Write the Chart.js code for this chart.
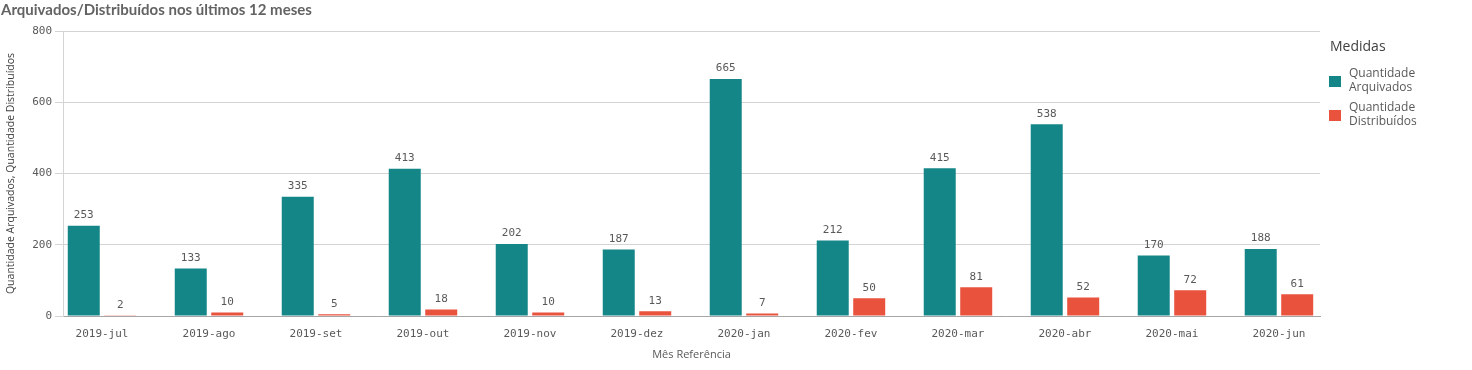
<!DOCTYPE html>
<html>
<head>
<meta charset="utf-8">
<script src="https://cdn.jsdelivr.net/npm/chart.js@4/dist/chart.umd.min.js"></script>
<style>
  html, body { margin: 0; padding: 0; background: #fff; }
  #wrap { width: 1472px; height: 370px; }
</style>
</head>
<body>
<div id="wrap"><canvas id="barChart" width="1472" height="370"></canvas></div>
<script>
"use strict";

// data
var meses = [ "2019-jul", "2019-ago", "2019-set", "2019-out", "2019-nov", "2019-dez",
              "2020-jan", "2020-fev", "2020-mar", "2020-abr", "2020-mai", "2020-jun" ];
var arquivados = [ 253, 133, 335, 413, 202, 187, 665, 212, 415, 538, 170, 188 ];
var distribuidos = [ 2, 10, 5, 18, 10, 13, 7, 50, 81, 52, 72, 61 ];
var yTicks = [ 0, 200, 400, 600, 800 ];

var TEAL = "#148688";
var RED = "#e9533e";
var MONO = "'DejaVu Sans Mono', monospace";
var SANS = "'Open Sans', sans-serif";

// value labels on top of bars
var valueLabels = {
    id: "valueLabels",
    afterDatasetsDraw: function ( chart ) {
        var ctx = chart.ctx;
        ctx.save();
        ctx.font = "11px " + MONO;
        ctx.fillStyle = "#595959";
        ctx.textAlign = "center";
        ctx.textBaseline = "bottom";
        chart.data.datasets.forEach( function ( ds, i ) {
            chart.getDatasetMeta( i ).data.forEach( function ( bar, j ) {
                ctx.fillText( ds.data[ j ], bar.x, bar.y - 5 );
            });
        });
        ctx.restore();
    }
};

// legend on the right ("Medidas") with wrapped labels
var sideLegend = {
    id: "sideLegend",
    afterDraw: function ( chart ) {
        var ctx = chart.ctx;
        var x = chart.chartArea.right + 10;
        ctx.save();
        ctx.textBaseline = "middle";
        ctx.textAlign = "left";
        ctx.fillStyle = "#404040";
        ctx.font = "14px " + SANS;
        ctx.fillText( "Medidas", x, 47 );
        var y = 74;
        chart.data.datasets.forEach( function ( ds ) {
            ctx.fillStyle = ds.backgroundColor;
            ctx.fillRect( x - 1, y + 2, 12, 11 );
            ctx.fillStyle = "#595959";
            ctx.font = "12px " + SANS;
            ds.legendLines.forEach( function ( t, k ) {
                ctx.fillText( t, x + 19, y + k * 14 );
            });
            y += 34;
        });
        ctx.restore();
    }
};

var ctx = document.getElementById( "barChart" );
var myChart = new Chart( ctx, {
    type: "bar",
    data: {
        labels: meses,
        datasets: [
            {
                label: "Quantidade Arquivados",
                legendLines: [ "Quantidade", "Arquivados" ],
                data: arquivados,
                backgroundColor: TEAL,
                categoryPercentage: 0.682,
                barPercentage: 0.877
            },
            {
                label: "Quantidade Distribuídos",
                legendLines: [ "Quantidade", "Distribuídos" ],
                data: distribuidos,
                backgroundColor: RED,
                categoryPercentage: 0.682,
                barPercentage: 0.877
            }
        ]
    },
    plugins: [ valueLabels, sideLegend ],
    options: {
        responsive: false,
        animation: false,
        layout: { padding: { left: 1, right: 152, top: 0, bottom: 0 } },
        plugins: {
            legend: { display: false },
            tooltip: { enabled: false },
            title: {
                display: true,
                text: "Arquivados/Distribuídos nos últimos 12 meses",
                align: "start",
                color: "#636363",
                font: { family: "Lato, sans-serif", size: 15, weight: "bold" },
                padding: { top: 1, bottom: 12 }
            }
        },
        scales: {
            x: {
                afterFit: function ( axis ) { axis.height = 54; },
                // Qlik leaves a little more room at both ends than Chart.js would
                afterBuildTicks: function ( axis ) {
                    axis._startValue = -0.3645;
                    axis._valueRange = 11.748;
                },
                grid: { display: false },
                border: { display: true, color: "#a6a6a6" },
                ticks: {
                    color: "#595959",
                    font: { family: MONO, size: 11 },
                    padding: 4,
                    maxRotation: 0
                },
                title: {
                    display: true,
                    text: "Mês Referência",
                    color: "#595959",
                    font: { family: SANS, size: 11 },
                    padding: { bottom: 9 }
                }
            },
            y: {
                min: 0,
                max: 800,
                afterFit: function ( axis ) { axis.width = 62; },
                afterBuildTicks: function ( axis ) {
                    axis.ticks = yTicks.map( function ( v ) { return { value: v }; } );
                },
                grid: { color: "#d4d4d4", tickLength: 8 },
                border: { display: true, color: "#d4d4d4" },
                ticks: {
                    color: "#595959",
                    font: { family: MONO, size: 11 },
                    padding: 3
                },
                title: {
                    display: true,
                    text: "Quantidade Arquivados, Quantidade Distribuídos",
                    color: "#404040",
                    font: { family: SANS, size: 10.5 },
                    padding: { top: 4 }
                }
            }
        }
    }
});
</script>
</body>
</html>
